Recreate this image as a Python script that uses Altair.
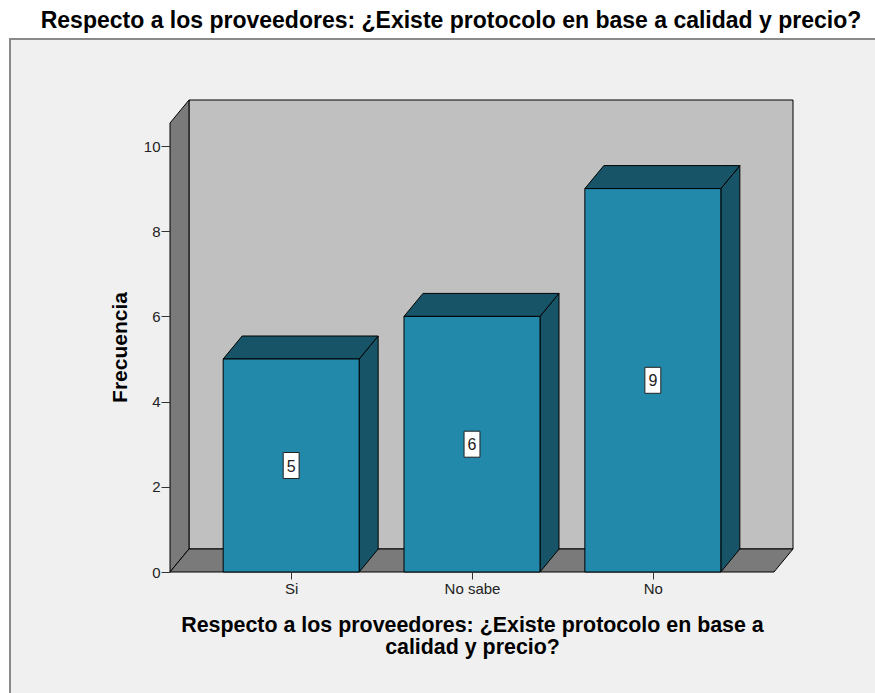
import altair as alt
import pandas as pd

# ---- data ----
categories = ["Si", "No sabe", "No"]
frequencies = [5, 6, 9]
y_ticks = [0, 2, 4, 6, 8, 10]
title_text = "Respecto a los proveedores: ¿Existe protocolo en base a calidad y precio?"
x_title_lines = ["Respecto a los proveedores: ¿Existe protocolo en base a", "calidad y precio?"]

# ---- geometry (in scale units) ----
L, R = -0.67, 2.67          # floor front left / right
WALL_TOP = 10.54            # front top of left wall
DX, DY = 0.105, 0.54        # depth offset (x units, y units)
HALF = 0.376                # half bar width
BOX_HW, BOX_HH = 0.044, 0.305

FRONT = "#2389ab"
DARK = "#175468"
WALL = "#c0c0c0"
SIDE = "#7a7a7a"

W, H = 623, 472
xs = alt.Scale(domain=[L, R + DX], nice=False, zero=False)
ys = alt.Scale(domain=[0, WALL_TOP + DY], nice=False, zero=False)

bars = pd.DataFrame({"cat": categories, "v": frequencies, "i": range(len(categories))})
bars["x0"] = bars["i"] - HALF
bars["x1"] = bars["i"] + HALF
bars["mid"] = bars["v"] / 2
bars["bx0"] = bars["i"] - BOX_HW
bars["bx1"] = bars["i"] + BOX_HW
bars["by0"] = bars["mid"] - BOX_HH
bars["by1"] = bars["mid"] + BOX_HH

top_rows, side_rows = [], []
for _, r in bars.iterrows():
    v = r["v"]
    top_rows += [
        {"b": r["cat"], "x": r["x0"], "y": v, "y2": v},
        {"b": r["cat"], "x": r["x0"] + DX, "y": v, "y2": v + DY},
        {"b": r["cat"], "x": r["x1"], "y": v, "y2": v + DY},
        {"b": r["cat"], "x": r["x1"] + DX, "y": v + DY, "y2": v + DY},
    ]
    side_rows += [
        {"b": r["cat"], "x": r["x1"], "y": 0, "y2": v},
        {"b": r["cat"], "x": r["x1"] + DX, "y": DY, "y2": v + DY},
    ]
top_df = pd.DataFrame(top_rows)
side_df = pd.DataFrame(side_rows)

leftwall_df = pd.DataFrame([
    {"x": L, "y": 0, "y2": WALL_TOP},
    {"x": L + DX, "y": DY, "y2": WALL_TOP + DY},
])
floor_df = pd.DataFrame([
    {"x": L, "y": 0, "y2": 0},
    {"x": L + DX, "y": 0, "y2": DY},
    {"x": R, "y": 0, "y2": DY},
    {"x": R + DX, "y": DY, "y2": DY},
])
back_df = pd.DataFrame([{"x": L + DX, "x2": R + DX, "y": DY, "y2": WALL_TOP + DY}])

label_expr = "[" + ",".join("'" + c + "'" for c in categories) + "][datum.value]"

frame = alt.Chart(pd.DataFrame({"a": [0]})).mark_rect(
    fill="#f0f0f0", stroke="#8a8a8a", strokeWidth=2
).encode(
    x=alt.value(-160), x2=alt.value(720), y=alt.value(-61), y2=alt.value(610)
)

title_mark = alt.Chart(pd.DataFrame({"t": [title_text]})).mark_text(
    font="Liberation Sans", fontSize=23, fontWeight="bold", color="black",
    align="center", baseline="alphabetic"
).encode(text="t:N", x=alt.value(281), y=alt.value(-72))

back = alt.Chart(back_df).mark_rect(fill=WALL, stroke="black", strokeWidth=1).encode(
    x=alt.X("x:Q", scale=xs,
            axis=alt.Axis(values=list(range(len(categories))), labelExpr=label_expr,
                          domain=False, grid=False, tickSize=7, tickColor="#333",
                          labelFont="Liberation Sans", labelFontSize=15, labelColor="#222",
                          labelPadding=2, title=x_title_lines, titleFont="Liberation Sans",
                          titleFontSize=21.4, titleFontWeight="bold", titleColor="black",
                          titleX=302, titleY=42, titleAnchor="middle", titleBaseline="top",
                          titleLineHeight=22, zindex=2)),
    x2="x2:Q",
    y=alt.Y("y:Q", scale=ys,
            axis=alt.Axis(values=y_ticks, domain=False, grid=False, tickSize=9,
                          tickColor="#333", labelFont="Liberation Sans", labelFontSize=15,
                          labelColor="#222", labelPadding=1, title="Frecuencia",
                          titleFont="Liberation Sans", titleFontSize=21,
                          titleFontWeight="bold", titleColor="black",
                          titleX=-50, titleY=247, titleAngle=-90,
                          titleAlign="center", titleBaseline="middle", zindex=2)),
    y2="y2:Q",
)

def poly(df, color, detail=None):
    enc = dict(
        x=alt.X("x:Q", scale=xs),
        y=alt.Y("y:Q", scale=ys),
        y2="y2:Q",
    )
    if detail:
        enc["detail"] = detail
    return alt.Chart(df).mark_area(
        fill=color, stroke="black", strokeWidth=1, interpolate="linear", opacity=1
    ).encode(**enc)

leftwall = poly(leftwall_df, SIDE)
floor = poly(floor_df, SIDE)
side = poly(side_df, DARK, "b:N")
top = poly(top_df, DARK, "b:N")

front = alt.Chart(bars).mark_rect(fill=FRONT, stroke="black", strokeWidth=1).encode(
    x=alt.X("x0:Q", scale=xs), x2="x1:Q",
    y=alt.Y("v:Q", scale=ys), y2=alt.datum(0),
)

boxes = alt.Chart(bars).mark_rect(fill="white", stroke="#222", strokeWidth=1).encode(
    x=alt.X("bx0:Q", scale=xs), x2="bx1:Q",
    y=alt.Y("by0:Q", scale=ys), y2="by1:Q",
)

labels = alt.Chart(bars).mark_text(
    font="Liberation Sans", fontSize=16, color="#222", baseline="middle", align="center", dy=1
).encode(
    x=alt.X("i:Q", scale=xs), y=alt.Y("mid:Q", scale=ys), text="v:Q"
)

chart = alt.layer(frame, title_mark, back, leftwall, floor, side, top, front, boxes, labels).properties(
    width=W, height=H,
    autosize="none",
    padding={"left": 170, "top": 100, "right": 82, "bottom": 121},
    background="white",
).configure_view(stroke=None)

chart.save("out.html", embed_options={"renderer": "svg", "actions": False})
